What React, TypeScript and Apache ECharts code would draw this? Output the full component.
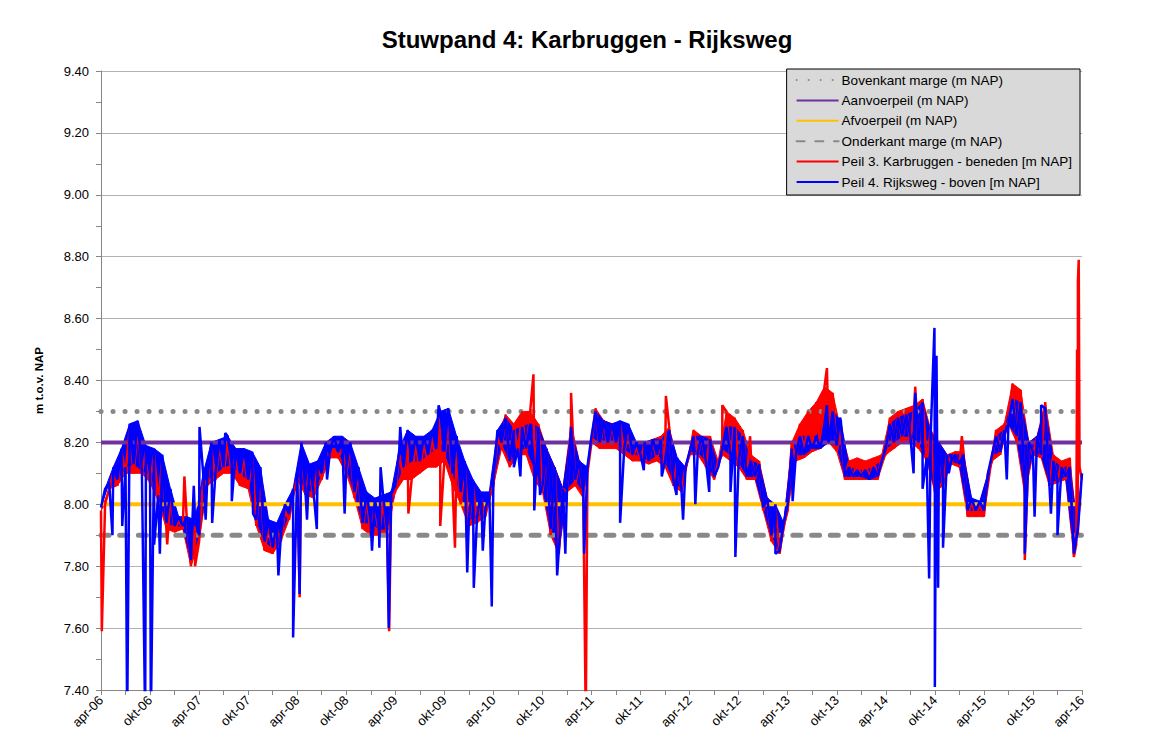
import React, { useEffect, useRef } from "react";
import * as echarts from "echarts";

// x axis: months since apr-06, one label every 6 months
const xTickLabels = [
  "apr-06", "okt-06", "apr-07", "okt-07", "apr-08", "okt-08", "apr-09", "okt-09",
  "apr-10", "okt-10", "apr-11", "okt-11", "apr-12", "okt-12", "apr-13", "okt-13",
  "apr-14", "okt-14", "apr-15", "okt-15", "apr-16",
];

// reference levels (m NAP)
const bovenkantMarge = 8.3;
const aanvoerpeil = 8.2;
const afvoerpeil = 8.0;
const onderkantMarge = 7.9;

// Peil 4. Rijksweg - boven : monthly upper / lower envelope (month 0 = apr-06)
const blueHi = [
  8.05, 8.12, 8.18, 8.26, 8.27, 8.19, 8.18, 8.16, 8.05, 7.96,
  7.96, 7.95, 8.10, 8.20, 8.21, 8.22, 8.18, 8.18, 8.17, 8.12,
  7.95, 7.94, 8.00, 8.05, 8.20, 8.13, 8.14, 8.20, 8.22, 8.22,
  8.20, 8.12, 8.04, 8.02, 8.03, 8.04, 8.18, 8.24, 8.22, 8.22,
  8.24, 8.30, 8.31, 8.22, 8.14, 8.08, 8.04, 8.04, 8.24, 8.28,
  8.24, 8.25, 8.26, 8.25, 8.18, 8.12, 8.05, 8.24, 8.14, 8.12,
  8.30, 8.27, 8.26, 8.27, 8.26, 8.20, 8.20, 8.21, 8.21, 8.24,
  8.15, 8.12, 8.22, 8.22, 8.21, 8.12, 8.25, 8.25, 8.22, 8.14,
  8.13, 8.02, 8.00, 7.94, 8.18, 8.22, 8.22, 8.22, 8.26, 8.30,
  8.27, 8.12, 8.11, 8.11, 8.12, 8.14, 8.26, 8.28, 8.29, 8.30,
  8.33, 8.23, 8.20, 8.16, 8.16, 8.16, 8.02, 8.01, 8.10, 8.22,
  8.24, 8.34, 8.33, 8.20, 8.22, 8.31, 8.14, 8.12, 8.12, 7.92,
  8.16,
];
const blueLo = [
  7.99, 8.07, 8.08, 8.12, 8.13, 8.11, 8.10, 8.03, 7.94, 7.93,
  7.93, 7.82, 7.90, 8.08, 8.10, 8.12, 8.13, 8.10, 8.08, 7.95,
  7.88, 7.86, 7.90, 7.97, 8.10, 8.05, 8.04, 8.10, 8.17, 8.17,
  8.12, 8.04, 7.94, 7.94, 7.92, 7.92, 8.06, 8.12, 8.14, 8.14,
  8.16, 8.18, 8.17, 8.10, 8.04, 7.95, 7.96, 7.98, 8.08, 8.20,
  8.14, 8.18, 8.18, 8.12, 8.06, 7.92, 7.85, 8.05, 8.08, 8.04,
  8.22, 8.20, 8.20, 8.20, 8.18, 8.16, 8.16, 8.14, 8.16, 8.14,
  8.08, 8.05, 8.17, 8.17, 8.14, 8.09, 8.18, 8.16, 8.14, 8.09,
  8.09, 7.99, 7.90, 7.85, 8.00, 8.16, 8.16, 8.18, 8.18, 8.20,
  8.19, 8.09, 8.09, 8.09, 8.08, 8.09, 8.18, 8.20, 8.22, 8.22,
  8.20, 8.15, 8.05, 8.08, 8.14, 8.13, 7.98, 7.98, 7.98, 8.16,
  8.17, 8.26, 8.22, 8.05, 8.17, 8.16, 8.07, 8.08, 8.09, 7.85,
  8.10,
];
const blueSpikes = [
  [1.4, 7.90], [2.6, 7.93], [3.2, 7.30], [5.4, 7.30], [6.1, 7.30], [6.5, 7.87], [7.2, 7.84],
  [11.35, 8.06], [12.05, 8.25], [12.8, 7.95], [13.6, 7.94], [15.2, 8.23], [16.0, 8.01],
  [18.6, 7.97], [21.7, 7.77], [23.5, 7.57], [24.3, 7.71], [25.2, 7.95], [26.4, 7.92],
  [27.65, 8.08], [29.8, 7.97], [33.15, 7.85], [34.05, 7.86], [34.2, 8.12], [35.2, 7.60],
  [36.6, 8.25], [41.3, 8.32], [44.8, 7.78], [45.6, 7.73], [46.7, 7.85], [47.8, 7.67],
  [50.5, 8.12], [51.3, 8.09], [53.0, 7.98], [53.7, 8.03], [55.8, 7.77], [56.8, 7.84],
  [57.5, 8.25], [59.1, 7.84], [63.5, 7.94], [66.4, 8.11], [68.6, 8.09], [70.4, 8.03],
  [71.2, 7.95], [72.7, 8.00], [74.4, 8.04], [77.0, 8.04], [77.6, 7.83], [82.5, 7.84],
  [84.6, 8.01], [88.8, 8.32], [90.4, 8.28], [99.4, 8.10], [99.6, 8.36], [100.5, 8.05],
  [101.3, 7.76], [101.95, 8.57], [102.0, 7.41], [102.2, 8.48], [102.4, 7.73], [103.0, 7.86],
  [103.7, 8.10], [110.8, 8.08], [113.0, 7.84], [114.2, 7.96], [115.0, 8.32], [116.2, 7.97],
  [117.0, 7.90], [119.0, 7.84],
];

// Peil 3. Karbruggen - beneden : monthly upper / lower envelope
const redHi = [
  8.00, 8.10, 8.17, 8.24, 8.25, 8.17, 8.16, 8.14, 8.03, 7.95,
  7.95, 7.93, 8.08, 8.18, 8.19, 8.20, 8.16, 8.16, 8.15, 8.10,
  7.93, 7.92, 7.98, 8.03, 8.18, 8.11, 8.12, 8.17, 8.18, 8.18,
  8.18, 8.10, 8.02, 8.00, 8.01, 8.02, 8.16, 8.22, 8.20, 8.20,
  8.22, 8.28, 8.28, 8.18, 8.12, 8.06, 8.02, 8.02, 8.22, 8.29,
  8.26, 8.30, 8.30, 8.26, 8.18, 8.12, 8.05, 8.26, 8.14, 8.10,
  8.31, 8.27, 8.26, 8.26, 8.25, 8.19, 8.20, 8.21, 8.22, 8.25,
  8.14, 8.12, 8.24, 8.22, 8.22, 8.14, 8.30, 8.28, 8.24, 8.16,
  8.14, 8.02, 7.99, 7.93, 8.20, 8.26, 8.30, 8.33, 8.38, 8.36,
  8.24, 8.14, 8.15, 8.14, 8.15, 8.16, 8.28, 8.30, 8.31, 8.32,
  8.34, 8.24, 8.20, 8.16, 8.17, 8.17, 8.01, 8.00, 8.10, 8.24,
  8.26, 8.39, 8.37, 8.20, 8.22, 8.33, 8.16, 8.14, 8.15, 7.90,
  8.12,
];
const redLo = [
  7.98, 8.05, 8.06, 8.10, 8.10, 8.10, 8.07, 8.01, 7.92, 7.91,
  7.92, 7.80, 7.88, 8.06, 8.08, 8.10, 8.10, 8.06, 8.05, 7.93,
  7.85, 7.84, 7.88, 7.95, 8.08, 8.03, 8.02, 8.08, 8.15, 8.15,
  8.10, 8.02, 7.92, 7.90, 7.90, 7.90, 8.04, 8.08, 8.08, 8.10,
  8.12, 8.12, 8.14, 8.06, 8.00, 7.93, 7.94, 7.96, 8.06, 8.18,
  8.12, 8.16, 8.16, 8.08, 8.04, 7.90, 7.84, 8.04, 8.06, 8.02,
  8.20, 8.18, 8.18, 8.18, 8.16, 8.14, 8.14, 8.13, 8.14, 8.12,
  8.06, 8.04, 8.16, 8.16, 8.12, 8.08, 8.16, 8.14, 8.12, 8.08,
  8.08, 7.98, 7.88, 7.84, 7.98, 8.14, 8.15, 8.17, 8.18, 8.20,
  8.17, 8.08, 8.08, 8.08, 8.08, 8.08, 8.16, 8.18, 8.20, 8.20,
  8.18, 8.14, 8.04, 8.06, 8.13, 8.12, 7.96, 7.96, 7.96, 8.14,
  8.16, 8.26, 8.20, 8.03, 8.16, 8.15, 8.06, 8.07, 8.08, 7.83,
  8.08,
];
const redSpikes = [
  [0.1, 7.59], [8.1, 7.87], [10.2, 8.09], [11.5, 7.80], [24.3, 7.70], [35.25, 7.59], [37.6, 7.97],
  [41.5, 7.93], [43.3, 7.86], [52.9, 8.42], [57.5, 8.36], [59.3, 7.30], [69.1, 8.35],
  [76.0, 8.32], [79.4, 8.22], [88.8, 8.44], [99.6, 8.38], [105.3, 8.22], [113.0, 7.82],
  [119.3, 7.87], [119.4, 8.50], [119.5, 8.72], [119.6, 8.79], [119.7, 8.12],
];

const lastMonth = (xTickLabels.length - 1) * 6;

function buildTrace(hi: number[], lo: number[], spikes: number[][]) {
  const pts: number[][] = [];
  for (let i = 0; i < lo.length; i++) {
    pts.push([i, lo[i]]);
    if (i < lo.length - 1) pts.push([i + 0.5, hi[i]]);
  }
  spikes.forEach((s) => pts.push(s));
  pts.sort((a, b) => a[0] - b[0]);
  return pts;
}

// outline of the band between the monthly lower and upper values
function buildBand(hi: number[], lo: number[]) {
  const top: number[][] = [];
  for (let i = 0; i < hi.length - 1; i++) top.push([i + 0.5, hi[i]]);
  const bottom: number[][] = [];
  for (let i = lo.length - 1; i >= 0; i--) bottom.push([i, lo[i]]);
  return [[0, lo[0]], ...top, ...bottom];
}

function bandSeries(band: number[][], color: string) {
  return {
    type: "custom",
    silent: true,
    clip: true,
    data: [[0, band[0][1]]],
    encode: { x: 0, y: 1 },
    renderItem: (_params: any, api: any) => ({
      type: "polygon",
      shape: { points: band.map((p) => api.coord(p)) },
      style: { fill: color, stroke: color, lineWidth: 1 },
    }),
  };
}

const FONT = "Liberation Sans";

export default function App() {
  const ref = useRef<HTMLDivElement>(null);
  useEffect(() => {
    if (!ref.current) return;
    const chart = echarts.init(ref.current, null, { renderer: "svg" });
    const refLine = (v: number) => [[0, v], [lastMonth, v]];
    chart.setOption({
      animation: false,
      backgroundColor: "#ffffff",
      title: {
        text: "Stuwpand 4: Karbruggen - Rijksweg",
        left: 582,
        textAlign: "center",
        top: 22,
        textStyle: { fontFamily: FONT, fontSize: 24, fontWeight: "bold", color: "#000" },
      },
      legend: {
        orient: "vertical",
        right: 70,
        top: 69,
        align: "left",
        itemWidth: 42,
        itemHeight: 14,
        itemGap: 6.4,
        padding: [4, 8, 6, 9],
        backgroundColor: "#d9d9d9",
        borderColor: "#000",
        borderWidth: 1,
        borderRadius: 0,
        itemStyle: { opacity: 0 },
        textStyle: { fontFamily: FONT, fontSize: 13.5, color: "#000", padding: [0, 0, 0, -2] },
        data: [
          "Bovenkant marge (m NAP)",
          "Aanvoerpeil (m NAP)",
          "Afvoerpeil (m NAP)",
          "Onderkant marge (m NAP)",
          "Peil 3. Karbruggen - beneden [m NAP]",
          "Peil 4. Rijksweg - boven [m NAP]",
        ],
      },
      grid: { left: 101, right: 68, top: 71, bottom: 61, containLabel: false },
      xAxis: {
        type: "value",
        min: 0,
        max: lastMonth,
        interval: 6,
        axisLine: { show: true, lineStyle: { color: "#868686", width: 1 } },
        axisTick: { show: true, length: 5, lineStyle: { color: "#868686" } },
        minorTick: { show: true, splitNumber: 2, length: 5, lineStyle: { color: "#868686" } },
        splitLine: { show: false },
        axisLabel: {
          rotate: 45,
          margin: 8,
          fontFamily: FONT,
          fontSize: 13,
          color: "#000",
          formatter: (v: number) => xTickLabels[Math.round(v / 6)] ?? "",
        },
      },
      yAxis: {
        type: "value",
        min: 7.4,
        max: 9.4,
        interval: 0.2,
        name: "m t.o.v. NAP",
        nameLocation: "middle",
        nameRotate: 90,
        nameGap: 56,
        nameTextStyle: { fontFamily: FONT, fontSize: 11.5, fontWeight: "bold", color: "#000" },
        axisLine: { show: true, lineStyle: { color: "#868686", width: 1 } },
        axisTick: { show: true, length: 5, lineStyle: { color: "#868686" } },
        minorTick: { show: true, splitNumber: 2, length: 5, lineStyle: { color: "#868686" } },
        splitLine: { show: true, lineStyle: { color: "#b3b3b3", width: 1 } },
        axisLabel: {
          margin: 12,
          fontFamily: FONT,
          fontSize: 13,
          color: "#000",
          formatter: (v: number) => v.toFixed(2),
        },
      },
      series: [
        {
          name: "Bovenkant marge (m NAP)",
          type: "line",
          data: refLine(bovenkantMarge),
          symbol: "none",
          color: "#898989",
          lineStyle: { color: "#898989", width: 5, type: [0.1, 11.9], cap: "round" },
        },
        {
          name: "Aanvoerpeil (m NAP)",
          type: "line",
          data: refLine(aanvoerpeil),
          symbol: "none",
          color: "#7030a0",
          lineStyle: { color: "#7030a0", width: 4 },
        },
        {
          name: "Afvoerpeil (m NAP)",
          type: "line",
          data: refLine(afvoerpeil),
          symbol: "none",
          color: "#ffc000",
          lineStyle: { color: "#ffc000", width: 4 },
        },
        {
          name: "Onderkant marge (m NAP)",
          type: "line",
          data: refLine(onderkantMarge),
          symbol: "none",
          color: "#898989",
          lineStyle: { color: "#898989", width: 5, type: [8, 10.7], cap: "round" },
        },
        bandSeries(buildBand(redHi, redLo), "#ff0000"),
        {
          name: "Peil 3. Karbruggen - beneden [m NAP]",
          type: "line",
          data: buildTrace(redHi, redLo, redSpikes),
          symbol: "none",
          color: "#ff0000",
          clip: true,
          lineStyle: { color: "#ff0000", width: 2.5 },
        },
        bandSeries(buildBand(blueHi, blueLo), "#0000ff"),
        {
          name: "Peil 4. Rijksweg - boven [m NAP]",
          type: "line",
          data: buildTrace(blueHi, blueLo, blueSpikes),
          symbol: "none",
          color: "#0000ff",
          clip: true,
          lineStyle: { color: "#0000ff", width: 2.5 },
        },
      ],
    });
    return () => chart.dispose();
  }, []);
  return (
    <div
      ref={ref}
      style={{ position: "fixed", left: 0, top: 0, width: 1150, height: 751, background: "#fff" }}
    />
  );
}
